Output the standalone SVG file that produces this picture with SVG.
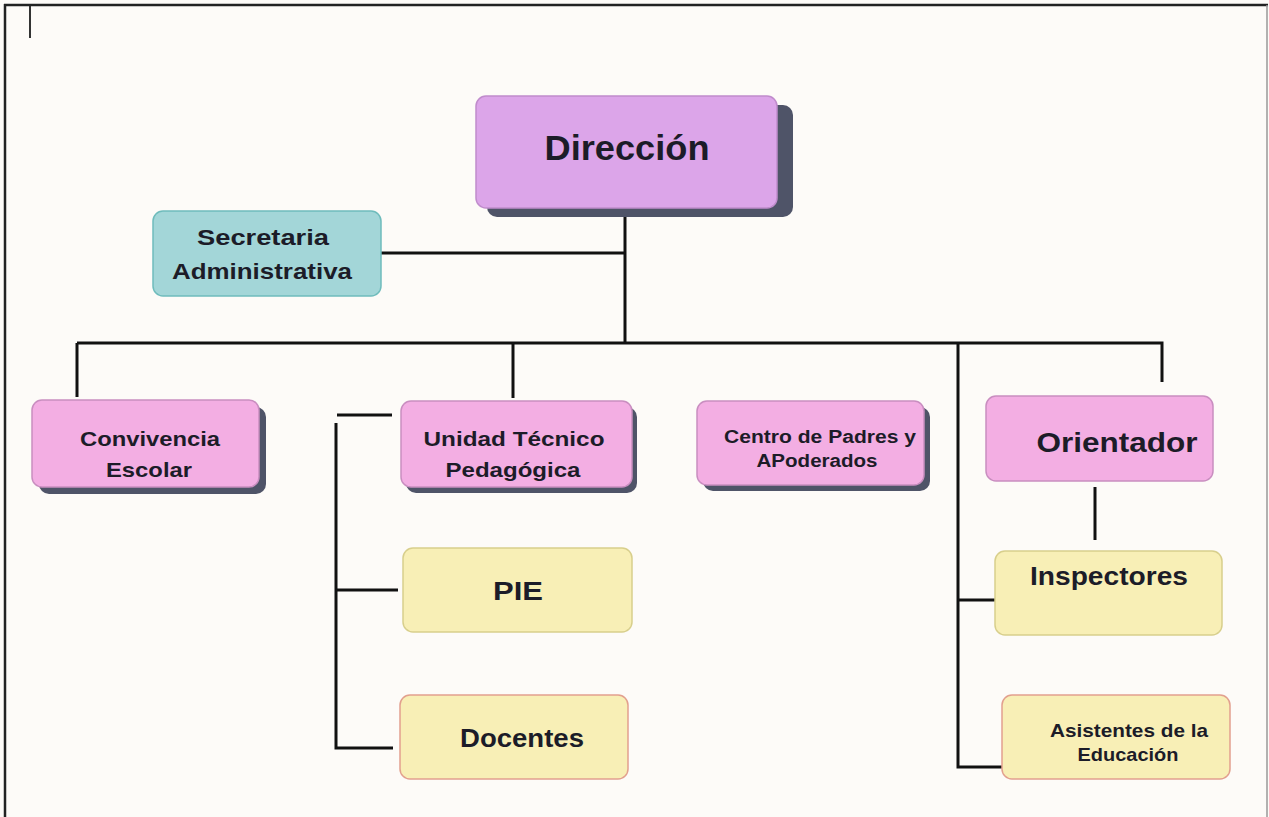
<svg xmlns="http://www.w3.org/2000/svg" width="1269" height="817" viewBox="0 0 1269 817">
<style>
.t{font-family:"Liberation Sans",Arial,sans-serif;font-weight:bold;fill:#1c1c28;text-anchor:middle}
.ln{stroke:#111;stroke-width:3;fill:none}
.sh{fill:#4f5468}
.pk{fill:#f3aee3;stroke:#c98ec0;stroke-width:1.5}
.lv{fill:#dca5e9;stroke:#c08ccc;stroke-width:1.5}
.tl{fill:#a3d6d8;stroke:#6fbcbc;stroke-width:1.5}
.yl{fill:#f8efb6;stroke:#d8cf8c;stroke-width:1.5}
.yr{fill:#f8efb6;stroke:#e2a08e;stroke-width:1.5}
</style>
<rect x="0" y="0" width="1269" height="817" fill="#fdfbf8"/>
<g id="frame">
<line x1="4" y1="5" x2="1268" y2="5" stroke="#222" stroke-width="2.5"/>
<line x1="5" y1="4" x2="5" y2="817" stroke="#222" stroke-width="2.5"/>
<line x1="1267" y1="5" x2="1267" y2="817" stroke="#999" stroke-width="1.5"/>
<line x1="30" y1="6" x2="30" y2="38" stroke="#333" stroke-width="2"/>
</g>
<g id="connectors">
<path class="ln" d="M625 208 V343"/>
<path class="ln" d="M381 253 H625"/>
<path class="ln" d="M77 343 H1162 V382"/>
<path class="ln" d="M77 343 V397"/>
<path class="ln" d="M513 343 V398"/>
<path class="ln" d="M958 343 V767 H1003"/>
<path class="ln" d="M958 600 H995"/>
<path class="ln" d="M1095 487 V540"/>
<path class="ln" d="M337 415 H392"/>
<path class="ln" d="M336 423 V748 H393"/>
<path class="ln" d="M336 590 H398"/>
</g>
<g id="direccion">
<rect class="sh" x="487" y="105" width="306" height="112" rx="10"/>
<rect class="lv" x="476" y="96" width="301" height="112" rx="10"/>
<text class="t" x="627" y="160" font-size="35" textLength="165" lengthAdjust="spacingAndGlyphs">Dirección</text>
</g>
<g id="secretaria">
<rect class="tl" x="153" y="211" width="228" height="85" rx="10"/>
<text class="t" x="263" y="245" font-size="22" textLength="132" lengthAdjust="spacingAndGlyphs">Secretaria</text>
<text class="t" x="262" y="279" font-size="22" textLength="180" lengthAdjust="spacingAndGlyphs">Administrativa</text>
</g>
<g id="convivencia">
<rect class="sh" x="39" y="407" width="227" height="87" rx="10"/>
<rect class="pk" x="32" y="400" width="227" height="87" rx="10"/>
<text class="t" x="150" y="446" font-size="21" textLength="140" lengthAdjust="spacingAndGlyphs">Convivencia</text>
<text class="t" x="149" y="477" font-size="21" textLength="86" lengthAdjust="spacingAndGlyphs">Escolar</text>
</g>
<g id="utp">
<rect class="sh" x="406" y="407" width="231" height="86" rx="10"/>
<rect class="pk" x="401" y="401" width="231" height="86" rx="10"/>
<text class="t" x="514" y="446" font-size="21" textLength="181" lengthAdjust="spacingAndGlyphs">Unidad Técnico</text>
<text class="t" x="513" y="477" font-size="21" textLength="135" lengthAdjust="spacingAndGlyphs">Pedagógica</text>
</g>
<g id="centro">
<rect class="sh" x="703" y="407" width="227" height="84" rx="10"/>
<rect class="pk" x="697" y="401" width="227" height="84" rx="10"/>
<text class="t" x="820" y="443" font-size="18" textLength="192" lengthAdjust="spacingAndGlyphs">Centro de Padres y</text>
<text class="t" x="817" y="467" font-size="18" textLength="121" lengthAdjust="spacingAndGlyphs">APoderados</text>
</g>
<g id="orientador">
<rect class="pk" x="986" y="396" width="227" height="85" rx="10"/>
<text class="t" x="1117" y="452" font-size="28" textLength="161" lengthAdjust="spacingAndGlyphs">Orientador</text>
</g>
<g id="pie">
<rect class="yl" x="403" y="548" width="229" height="84" rx="10"/>
<text class="t" x="518" y="600" font-size="26" textLength="50" lengthAdjust="spacingAndGlyphs">PIE</text>
</g>
<g id="docentes">
<rect class="yr" x="400" y="695" width="228" height="84" rx="10"/>
<text class="t" x="522" y="747" font-size="25" textLength="124" lengthAdjust="spacingAndGlyphs">Docentes</text>
</g>
<g id="inspectores">
<rect class="yl" x="995" y="551" width="227" height="84" rx="10"/>
<text class="t" x="1109" y="585" font-size="25" textLength="158" lengthAdjust="spacingAndGlyphs">Inspectores</text>
</g>
<g id="asistentes">
<rect class="yr" x="1002" y="695" width="228" height="84" rx="10"/>
<text class="t" x="1129" y="737" font-size="19" textLength="158" lengthAdjust="spacingAndGlyphs">Asistentes de la</text>
<text class="t" x="1128" y="761" font-size="19" textLength="101" lengthAdjust="spacingAndGlyphs">Educación</text>
</g>
</svg>
